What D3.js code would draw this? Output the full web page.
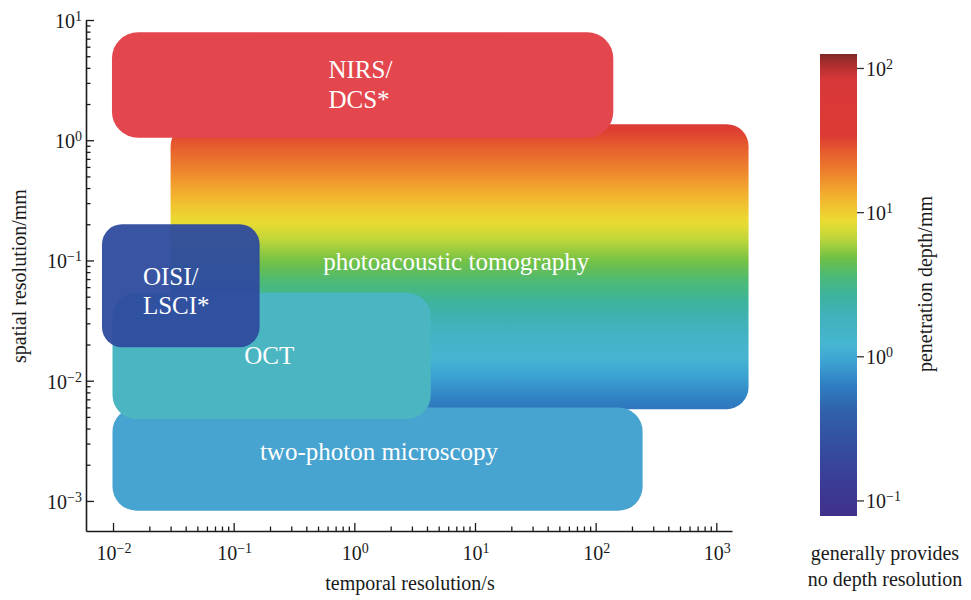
<!DOCTYPE html>
<html><head><meta charset="utf-8">
<script src="https://cdn.jsdelivr.net/npm/d3@7"></script>
<style>
body{margin:0;background:#fff}
text{font-family:"Liberation Serif","Times New Roman",serif;fill:#1a1a1a}
</style>
</head><body><svg id="c" width="971" height="600"></svg>
<script>
// ---------- data ----------
const techniques  = ["photoacoustic tomography","two-photon microscopy","OCT","NIRS/DCS*","OISI/LSCI*"];
const labelLines  = [["photoacoustic tomography"],["two-photon microscopy"],["OCT"],["NIRS/","DCS*"],["OISI/","LSCI*"]];
const temporalMin = [0.030, 0.0099, 0.0099, 0.0098, 0.0081];   // s
const temporalMax = [1850, 245, 4.3, 140, 0.164];              // s
const spatialMin  = [0.0058, 0.00083, 0.0048, 1.05, 0.019];    // mm
const spatialMax  = [1.36, 0.0060, 0.054, 7.9, 0.20];          // mm
const labelT      = [7.0, 1.6, 0.197, 0.61, 0.0177];           // label anchor (temporal)
const labelS      = [0.083, 0.00219, 0.0138, 3.29, 0.0620];    // label anchor (spatial)
const labelAnchor = ["middle","middle","middle","start","start"];
const paDepthRange = [36, 0.56];                               // penetration depth top→bottom (mm)

const depthStops   = [125,110,83,34,27,18,13,8.7,6.6,4.8,3.6,2.6,1.9,1.2,0.91,0.63,0.42,0.26,0.14,0.078];
const depthColours = ["#7e2828","#a52c2c","#d8383a","#dc3a33","#e5582e","#ee872c","#f2b02e","#ecdc32","#bed63a","#70c046",
                      "#4cba76","#3cb3a0","#40b2bc","#46b6d2","#3ca2d2","#2f7ec2","#3062aa","#3450a0","#3a3e96","#40308c"];

const xMajor = [1e-2,1e-1,1,1e1,1e2,1e3];
const xTickExp = ["−2","−1","0","1","2","3"];
const yMajor = [1e-3,1e-2,1e-1,1,1e1];
const yTickExp = ["−3","−2","−1","0","1"];
const cbMajor = [0.1,1,10,100];
const cbTickExp = ["−1","0","1","2"];

// ---------- styles ----------
const fills    = ["url(#paGrad)","#47a3d0","#4bb6c1","#e4464e","#2e4b9e"];
const opac     = [1,1,1,1,0.95];
const radii    = [22,24,24,26,20];
const lineGap  = [0,0,0,30,29];

// ---------- scales ----------
const svg = d3.select("#c");
const x = d3.scaleLog().domain([Math.pow(10,-2.224), Math.pow(10,3.13)]).range([86,732]);
const y = d3.scaleLog().domain([Math.pow(10,-3.25), 10]).range([531,20]);
const cb = d3.scaleLog().domain([0.078,125]).range([516,54]);
const depthColor = d3.scaleLinear().domain(depthStops.map(Math.log10)).range(depthColours)
  .interpolate(d3.interpolateRgb).clamp(true);

const defs = svg.append("defs");
const pa = defs.append("linearGradient").attr("id","paGrad").attr("x1",0).attr("y1",0).attr("x2",0).attr("y2",1);
const l0 = Math.log10(paDepthRange[0]), l1 = Math.log10(paDepthRange[1]);
d3.range(0,41).forEach(i=>{
  const f=i/40;
  pa.append("stop").attr("offset",f).attr("stop-color",depthColor(l0+(l1-l0)*f));
});
const cg = defs.append("linearGradient").attr("id","cbGrad").attr("x1",0).attr("y1",0).attr("x2",0).attr("y2",1);
depthStops.forEach((d,i)=>{
  cg.append("stop").attr("offset",(cb(d)-54)/(516-54)).attr("stop-color",depthColours[i]);
});

// ---------- boxes ----------
const boxes = svg.append("g");
techniques.forEach((t,i)=>{
  boxes.append("rect")
    .attr("x",x(temporalMin[i])).attr("y",y(spatialMax[i]))
    .attr("width",x(temporalMax[i])-x(temporalMin[i]))
    .attr("height",y(spatialMin[i])-y(spatialMax[i]))
    .attr("rx",radii[i]).attr("ry",radii[i])
    .attr("fill",fills[i]).attr("opacity",opac[i]);
});
techniques.forEach((t,i)=>{
  const tx = boxes.append("text").attr("x",x(labelT[i])).attr("y",y(labelS[i]))
    .attr("text-anchor",labelAnchor[i]).style("fill","#fff").style("font-size","25px");
  labelLines[i].forEach((ln,j)=>{
    tx.append("tspan").attr("x",x(labelT[i])).attr("dy", j===0?0:lineGap[i]).text(ln);
  });
});

// ---------- axes ----------
function styleAxis(g){
  g.selectAll("path.domain").attr("stroke","#1a1a1a").attr("stroke-width",1.6);
  g.selectAll(".tick line").attr("stroke","#1a1a1a").attr("stroke-width",1.3);
}
const gx = svg.append("g").attr("transform","translate(0,531)");
gx.call(d3.axisBottom(x).tickValues(xMajor).tickSize(-8).tickSizeOuter(0).tickFormat(()=>""));
const gxm = svg.append("g").attr("transform","translate(0,531)");
gxm.call(d3.axisBottom(x).tickValues(x.ticks().filter(v=>!xMajor.includes(v) && v>xMajor[0])).tickSize(-4.5).tickSizeOuter(0).tickFormat(()=>""));
gxm.select("path.domain").remove();
styleAxis(gx); styleAxis(gxm);

const gy = svg.append("g").attr("transform","translate(86,0)");
gy.call(d3.axisLeft(y).tickValues(yMajor).tickSize(-8).tickSizeOuter(0).tickFormat(()=>""));
const gym = svg.append("g").attr("transform","translate(86,0)");
gym.call(d3.axisLeft(y).tickValues(y.ticks().filter(v=>!yMajor.includes(v) && v>yMajor[0])).tickSize(-4.5).tickSizeOuter(0).tickFormat(()=>""));
gym.select("path.domain").remove();
styleAxis(gy); styleAxis(gym);
svg.selectAll(".tick text").remove();

function powLabel(g, px, py, exp, anchor){
  const t = g.append("text").attr("x",px).attr("y",py).attr("text-anchor",anchor).style("font-size","20px");
  t.append("tspan").text("10");
  t.append("tspan").attr("dy","-0.5em").style("font-size","14px").text(exp);
  return t;
}
xMajor.forEach((v,i)=>powLabel(svg, x(v)+1, 560, xTickExp[i], "middle"));
yMajor.forEach((v,i)=>powLabel(svg, 82, y(v)+8, yTickExp[i], "end"));

svg.append("text").attr("x",410).attr("y",590).attr("text-anchor","middle").style("font-size","20px").text("temporal resolution/s");
svg.append("text").attr("transform","translate(26,276) rotate(-90)").attr("text-anchor","middle").style("font-size","20px").text("spatial resolution/mm");

// ---------- colour bar ----------
svg.append("rect").attr("x",820).attr("y",cb(125)).attr("width",37).attr("height",cb(0.078)-cb(125)).attr("fill","url(#cbGrad)");
const gc = svg.append("g").attr("transform","translate(857,0)");
gc.call(d3.axisRight(cb).tickValues(cbMajor).tickSize(7).tickSizeOuter(0).tickFormat(()=>""));
gc.select("path.domain").remove();
gc.selectAll(".tick line").attr("stroke","#333").attr("stroke-width",1.3);
gc.selectAll(".tick text").remove();
cbMajor.forEach((v,i)=>powLabel(svg, 866, cb(v)+8, cbTickExp[i], "start"));
svg.append("text").attr("transform","translate(932,284) rotate(-90)").attr("text-anchor","middle").style("font-size","20px").text("penetration depth/mm");
svg.append("text").attr("x",885).attr("y",560).attr("text-anchor","middle").style("font-size","20px").text("generally provides");
svg.append("text").attr("x",885).attr("y",586).attr("text-anchor","middle").style("font-size","20px").text("no depth resolution");
</script>
</body></html>
